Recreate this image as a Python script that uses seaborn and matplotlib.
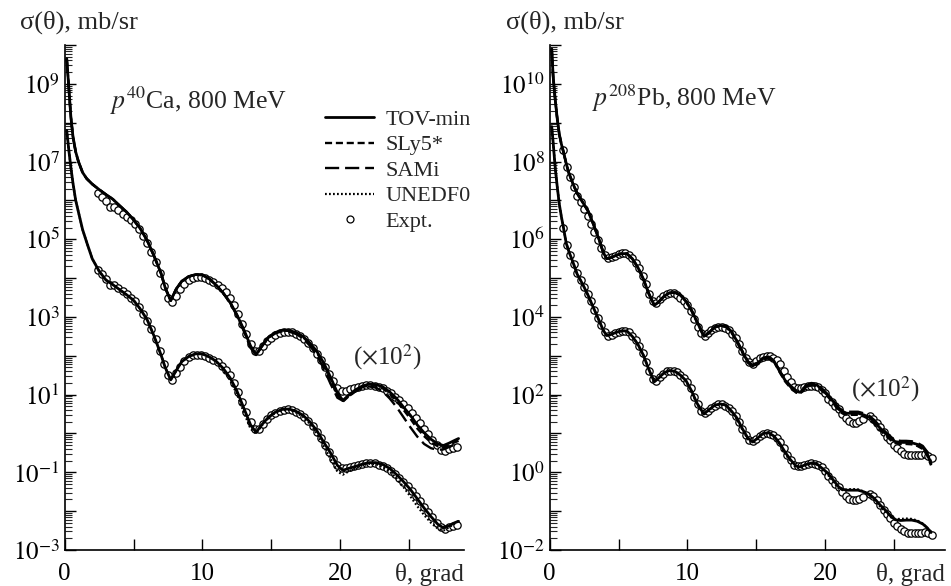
import numpy as np
import matplotlib
matplotlib.use("Agg")
import matplotlib.pyplot as plt
import matplotlib.ticker as mticker
from matplotlib.lines import Line2D
import seaborn as sns

# --- данные: log10 σ(θ), mb/sr ---
# теор. кривые верхней группы записаны уже с множителем 10^2 (как на графике)

# p + 40Ca
ca_theta = [0.15, 0.3, 0.45, 0.6, 0.8, 1.0, 1.3, 1.6, 2.0, 2.5,
            3.0, 3.5, 4.0, 4.5, 5.0, 5.5, 6.0, 6.5, 7.0, 7.3,
            7.7, 8.1, 8.5, 9.0, 9.5, 10.0, 10.5, 11.0, 11.5, 12.0,
            12.5, 13.0, 13.5, 13.9, 14.3, 14.8, 15.3, 15.8, 16.3, 16.8,
            17.3, 17.8, 18.3, 18.8, 19.3, 19.8, 20.2, 20.6, 21.1, 21.6,
            22.1, 22.6, 23.1, 23.6, 24.1, 24.6, 25.1, 25.6, 26.1, 26.6,
            27.1, 27.5, 27.9, 28.3, 28.6]
# верхняя группа (x10^2)
ca_tov_up = [9.65, 8.9, 8.15, 7.65, 7.25, 7.0, 6.72, 6.56, 6.42, 6.28,
             6.15, 6.03, 5.86, 5.70, 5.50, 5.27, 4.96, 4.56, 4.12, 3.75,
             3.42, 3.72, 3.92, 4.04, 4.09, 4.08, 3.98, 3.82, 3.62, 3.38,
             3.06, 2.68, 2.25, 2.03, 2.25, 2.48, 2.60, 2.66, 2.65, 2.60,
             2.50, 2.33, 2.12, 1.82, 1.45, 1.05, 0.85, 0.98, 1.12, 1.22,
             1.27, 1.26, 1.20, 1.07, 0.90, 0.68, 0.47, 0.22, 0.02, -0.15,
             -0.27, -0.31, -0.25, -0.18, -0.13]
ca_sly_up = [9.65, 8.9, 8.15, 7.65, 7.25, 7.0, 6.72, 6.56, 6.42, 6.28,
             6.15, 6.03, 5.86, 5.70, 5.50, 5.27, 4.96, 4.56, 4.12, 3.75,
             3.42, 3.72, 3.92, 4.04, 4.09, 4.08, 3.98, 3.82, 3.62, 3.38,
             3.05, 2.66, 2.23, 2.02, 2.24, 2.47, 2.59, 2.65, 2.64, 2.58,
             2.48, 2.31, 2.09, 1.78, 1.40, 1.00, 0.82, 0.95, 1.09, 1.19,
             1.24, 1.23, 1.16, 1.02, 0.84, 0.61, 0.38, 0.13, -0.07, -0.23,
             -0.33, -0.36, -0.30, -0.23, -0.19]
ca_sami_up = [9.65, 8.9, 8.15, 7.65, 7.25, 7.0, 6.72, 6.56, 6.42, 6.28,
              6.15, 6.03, 5.86, 5.70, 5.50, 5.27, 4.96, 4.56, 4.12, 3.75,
              3.42, 3.72, 3.92, 4.04, 4.09, 4.08, 3.98, 3.82, 3.62, 3.37,
              3.04, 2.64, 2.20, 2.01, 2.23, 2.46, 2.58, 2.63, 2.62, 2.56,
              2.45, 2.26, 2.02, 1.68, 1.28, 0.92, 0.84, 0.95, 1.08, 1.17,
              1.21, 1.18, 1.08, 0.90, 0.68, 0.42, 0.16, -0.08, -0.27, -0.38,
              -0.42, -0.41, -0.35, -0.29, -0.25]
# нижняя группа
ca_tov_lo = [7.8, 7.3, 6.85, 6.45, 6.0, 5.7, 5.25, 4.92, 4.5, 4.18,
             3.95, 3.83, 3.70, 3.57, 3.43, 3.2, 2.92, 2.5, 2.02, 1.7,
             1.38, 1.62, 1.85, 1.98, 2.05, 2.05, 1.97, 1.86, 1.68, 1.44,
             1.1, 0.66, 0.22, 0.03, 0.22, 0.42, 0.55, 0.62, 0.63, 0.57,
             0.47, 0.30, 0.08, -0.22, -0.5, -0.82, -0.95, -0.9, -0.85, -0.79,
             -0.75, -0.75, -0.8, -0.9, -1.06, -1.24, -1.44, -1.68, -1.92, -2.14,
             -2.34, -2.43, -2.38, -2.3, -2.26]
ca_unedf_lo = [7.8, 7.3, 6.85, 6.45, 6.0, 5.7, 5.25, 4.92, 4.5, 4.18,
               3.95, 3.83, 3.70, 3.57, 3.43, 3.2, 2.92, 2.5, 2.02, 1.7,
               1.38, 1.62, 1.85, 1.98, 2.05, 2.05, 1.97, 1.85, 1.64, 1.38,
               1.02, 0.55, 0.12, 0.0, 0.2, 0.4, 0.53, 0.6, 0.61, 0.54,
               0.43, 0.25, 0.0, -0.33, -0.65, -0.98, -1.06, -0.98, -0.9, -0.82,
               -0.78, -0.79, -0.86, -0.98, -1.16, -1.38, -1.62, -1.87, -2.1, -2.3,
               -2.45, -2.5, -2.42, -2.32, -2.25]
ca_expt_theta = [2.4, 2.7, 3.0, 3.3, 3.6, 3.9, 4.2, 4.5, 4.8, 5.1,
                 5.4, 5.7, 6.0, 6.3, 6.6, 6.9, 7.2, 7.5, 7.8, 8.1,
                 8.4, 8.7, 9.0, 9.3, 9.6, 9.9, 10.2, 10.5, 10.8, 11.1,
                 11.4, 11.7, 12.0, 12.3, 12.6, 12.9, 13.2, 13.5, 13.8, 14.1,
                 14.4, 14.7, 15.0, 15.3, 15.6, 15.9, 16.2, 16.5, 16.8, 17.1,
                 17.4, 17.7, 18.0, 18.3, 18.6, 18.9, 19.2, 19.5, 19.8, 20.1,
                 20.4, 20.7, 21.0, 21.3, 21.6, 21.9, 22.2, 22.5, 22.8, 23.1,
                 23.4, 23.7, 24.0, 24.3, 24.6, 24.9, 25.2, 25.5, 25.8, 26.1,
                 26.4, 26.7, 27.0, 27.3, 27.6, 27.9, 28.2, 28.5]
ca_expt = [4.2, 4.1, 3.98, 3.82, 3.82, 3.74, 3.66, 3.58, 3.5, 3.4,
           3.26, 3.08, 2.9, 2.68, 2.42, 2.12, 1.8, 1.5, 1.38, 1.55,
           1.72, 1.86, 1.96, 2.01, 2.03, 2.03, 2.0, 1.95, 1.9, 1.83,
           1.74, 1.63, 1.5, 1.3, 1.08, 0.82, 0.55, 0.3, 0.12, 0.12,
           0.25, 0.38, 0.47, 0.54, 0.59, 0.61, 0.62, 0.6, 0.56, 0.5,
           0.42, 0.32, 0.2, 0.05, -0.12, -0.3, -0.48, -0.66, -0.82, -0.9,
           -0.9, -0.86, -0.83, -0.8, -0.78, -0.76, -0.76, -0.77, -0.8, -0.84,
           -0.9, -0.97, -1.05, -1.14, -1.24, -1.35, -1.47, -1.6, -1.74, -1.88,
           -2.02, -2.16, -2.3, -2.42, -2.45, -2.4, -2.38, -2.36]

# p + 208Pb
pb_theta = [0.15, 0.25, 0.4, 0.55, 0.7, 0.85, 1.0, 1.2, 1.4, 1.7,
            2.0, 2.4, 2.8, 3.2, 3.6, 3.9, 4.15, 4.4, 4.8, 5.2,
            5.6, 6.0, 6.4, 6.8, 7.2, 7.6, 7.9, 8.3, 8.7, 9.1,
            9.5, 9.9, 10.3, 10.7, 11.2, 11.6, 12.0, 12.4, 12.8, 13.2,
            13.6, 14.0, 14.4, 14.75, 15.1, 15.5, 15.9, 16.3, 16.7, 17.1,
            17.5, 17.9, 18.2, 18.6, 19.0, 19.4, 19.8, 20.2, 20.6, 21.0,
            21.3, 21.6, 22.0, 22.4, 22.8, 23.2, 23.6, 24.0, 24.4, 24.8,
            25.1, 25.5, 25.9, 26.3, 26.7, 27.1, 27.4, 27.7]
pb_tov_up = [10.9, 10.2, 9.6, 9.1, 8.7, 8.45, 8.25, 7.95, 7.7, 7.42,
             7.18, 6.95, 6.72, 6.36, 5.98, 5.65, 5.5, 5.52, 5.58, 5.63,
             5.63, 5.5, 5.28, 4.98, 4.6, 4.3, 4.38, 4.53, 4.62, 4.63,
             4.56, 4.4, 4.17, 3.88, 3.5, 3.6, 3.74, 3.78, 3.76, 3.62,
             3.38, 3.1, 2.84, 2.74, 2.82, 2.93, 2.96, 2.86, 2.6, 2.37,
             2.2, 2.08, 2.06, 2.2, 2.27, 2.25, 2.12, 1.98, 1.82, 1.62,
             1.55, 1.52, 1.52, 1.52, 1.48, 1.42, 1.3, 1.14, 1.0, 0.86,
             0.79, 0.77, 0.77, 0.76, 0.72, 0.64, 0.5, 0.22]
pb_sly_up = [10.9, 10.2, 9.6, 9.1, 8.7, 8.45, 8.25, 7.95, 7.7, 7.42,
             7.18, 6.95, 6.72, 6.36, 5.98, 5.65, 5.5, 5.52, 5.58, 5.63,
             5.63, 5.5, 5.28, 4.98, 4.6, 4.3, 4.38, 4.53, 4.62, 4.63,
             4.56, 4.4, 4.16, 3.86, 3.49, 3.59, 3.73, 3.77, 3.74, 3.6,
             3.36, 3.08, 2.82, 2.72, 2.8, 2.91, 2.94, 2.84, 2.58, 2.34,
             2.17, 2.05, 2.03, 2.17, 2.24, 2.22, 2.09, 1.95, 1.78, 1.58,
             1.51, 1.48, 1.48, 1.48, 1.44, 1.37, 1.25, 1.09, 0.95, 0.82,
             0.75, 0.73, 0.73, 0.72, 0.68, 0.6, 0.45, 0.18]
pb_sami_up = [10.9, 10.2, 9.6, 9.1, 8.7, 8.45, 8.25, 7.95, 7.7, 7.42,
              7.18, 6.95, 6.72, 6.36, 5.98, 5.65, 5.5, 5.52, 5.58, 5.63,
              5.63, 5.5, 5.28, 4.98, 4.6, 4.3, 4.38, 4.53, 4.62, 4.63,
              4.56, 4.41, 4.18, 3.89, 3.52, 3.61, 3.75, 3.79, 3.77, 3.63,
              3.39, 3.12, 2.86, 2.76, 2.84, 2.95, 2.98, 2.88, 2.62, 2.39,
              2.23, 2.11, 2.09, 2.23, 2.3, 2.28, 2.15, 2.01, 1.85, 1.66,
              1.59, 1.56, 1.56, 1.56, 1.52, 1.46, 1.34, 1.18, 1.04, 0.9,
              0.83, 0.81, 0.81, 0.8, 0.76, 0.68, 0.54, 0.27]
pb_tov_lo = [8.9, 8.5, 7.85, 7.35, 6.9, 6.58, 6.3, 5.9, 5.68, 5.4,
             5.1, 4.84, 4.55, 4.22, 3.9, 3.65, 3.52, 3.54, 3.6, 3.64,
             3.64, 3.5, 3.3, 3.02, 2.65, 2.33, 2.42, 2.56, 2.62, 2.6,
             2.5, 2.36, 2.1, 1.78, 1.5, 1.62, 1.73, 1.76, 1.73, 1.58,
             1.4, 1.12, 0.88, 0.78, 0.88, 1.0, 1.02, 0.93, 0.75, 0.52,
             0.32, 0.16, 0.14, 0.2, 0.24, 0.22, 0.1, -0.02, -0.2, -0.38,
             -0.44, -0.46, -0.46, -0.46, -0.5, -0.56, -0.68, -0.84, -0.98, -1.14,
             -1.22, -1.24, -1.23, -1.23, -1.26, -1.33, -1.42, -1.55]
pb_unedf_lo = [8.9, 8.5, 7.85, 7.35, 6.9, 6.58, 6.3, 5.9, 5.68, 5.4,
               5.1, 4.84, 4.55, 4.22, 3.9, 3.65, 3.52, 3.54, 3.6, 3.64,
               3.64, 3.5, 3.3, 3.02, 2.65, 2.33, 2.42, 2.56, 2.62, 2.6,
               2.5, 2.35, 2.08, 1.76, 1.49, 1.61, 1.72, 1.75, 1.71, 1.56,
               1.37, 1.09, 0.85, 0.76, 0.87, 0.99, 1.01, 0.91, 0.72, 0.48,
               0.28, 0.12, 0.11, 0.18, 0.22, 0.2, 0.07, -0.06, -0.24, -0.42,
               -0.46, -0.44, -0.43, -0.44, -0.49, -0.58, -0.72, -0.88, -1.02, -1.16,
               -1.2, -1.2, -1.19, -1.2, -1.24, -1.32, -1.42, -1.58]
pb_expt_theta = [1.0, 1.25, 1.5, 1.75, 2.0, 2.25, 2.5, 2.75, 3.0, 3.25,
                 3.5, 3.75, 4.0, 4.25, 4.5, 4.75, 5.0, 5.25, 5.5, 5.75,
                 6.0, 6.25, 6.5, 6.75, 7.0, 7.25, 7.5, 7.75, 8.0, 8.25,
                 8.5, 8.75, 9.0, 9.25, 9.5, 9.75, 10.0, 10.25, 10.5, 10.75,
                 11.0, 11.25, 11.5, 11.75, 12.0, 12.25, 12.5, 12.75, 13.0, 13.25,
                 13.5, 13.75, 14.0, 14.25, 14.5, 14.75, 15.0, 15.25, 15.5, 15.75,
                 16.0, 16.25, 16.5, 16.75, 17.0, 17.25, 17.5, 17.75, 18.0, 18.25,
                 18.5, 18.75, 19.0, 19.25, 19.5, 19.75, 20.0, 20.25, 20.5, 20.75,
                 21.0, 21.25, 21.5, 21.75, 22.0, 22.25, 22.5, 22.75, 23.25, 23.5,
                 23.75, 24.0, 24.25, 24.5, 24.75, 25.0, 25.25, 25.5, 25.75, 26.0,
                 26.25, 26.5, 26.75, 27.0, 27.25, 27.5, 27.75]
pb_expt = [6.3, 5.85, 5.6, 5.35, 5.12, 4.95, 4.78, 4.6, 4.4, 4.18,
           3.98, 3.78, 3.6, 3.52, 3.54, 3.58, 3.62, 3.64, 3.64, 3.6,
           3.52, 3.4, 3.25, 3.06, 2.84, 2.6, 2.4, 2.35, 2.45, 2.54,
           2.6, 2.62, 2.61, 2.57, 2.5, 2.42, 2.32, 2.16, 1.95, 1.75,
           1.58, 1.52, 1.58, 1.66, 1.72, 1.75, 1.75, 1.72, 1.66, 1.57,
           1.45, 1.3, 1.12, 0.95, 0.84, 0.8, 0.86, 0.94, 0.98, 1.0,
           0.99, 0.95, 0.88, 0.78, 0.62, 0.45, 0.32, 0.2, 0.16, 0.17,
           0.2, 0.22, 0.23, 0.22, 0.2, 0.13, 0.03, -0.1, -0.2, -0.3,
           -0.38, -0.5, -0.6, -0.68, -0.72, -0.72, -0.68, -0.63, -0.55, -0.62,
           -0.72, -0.84, -0.96, -1.08, -1.18, -1.3, -1.38, -1.45, -1.52, -1.55,
           -1.56, -1.56, -1.55, -1.55, -1.54, -1.57, -1.62]

scale_up = 100  # эксперимент в верхней группе умножен на 10^2

# --- оформление ---
sns.set_style("ticks")
plt.rcParams['font.family'] = ['Liberation Serif', 'DejaVu Serif']
plt.rcParams['mathtext.fontset'] = 'stix'

styles = {
    "TOV-min": dict(linestyle='-', linewidth=2.0),
    "SLy5*": dict(linestyle=(0, (3.0, 1.6)), linewidth=1.7),
    "SAMi": dict(linestyle=(0, (6.0, 2.5)), linewidth=1.7),
    "UNEDF0": dict(linestyle=(0, (0.8, 1.0)), linewidth=1.6),
}

fig = plt.figure(figsize=(9.51, 5.86), dpi=100)
ax1 = fig.add_axes([0.068, 0.0614, 0.420, 0.8618])
ax2 = fig.add_axes([0.578, 0.0614, 0.4155, 0.8618])


def draw(ax, theta, up, lo, expt_theta, expt):
    # точки эксперимента под линиями, как в оригинале
    for k in (scale_up, 1):
        sns.scatterplot(x=expt_theta, y=k * 10 ** np.array(expt), ax=ax,
                        marker='o', s=28, facecolor='white',
                        edgecolor='black', linewidth=0.9, zorder=2)
    for name in ["SAMi", "SLy5*", "TOV-min"]:
        sns.lineplot(x=theta, y=10 ** np.array(up[name]), ax=ax,
                     color='black', sort=False, zorder=3, **styles[name])
    for name in ["UNEDF0", "TOV-min"]:
        sns.lineplot(x=theta, y=10 ** np.array(lo[name]), ax=ax,
                     color='black', sort=False, zorder=3, **styles[name])


draw(ax1, ca_theta,
     {"TOV-min": ca_tov_up, "SLy5*": ca_sly_up, "SAMi": ca_sami_up},
     {"TOV-min": ca_tov_lo, "UNEDF0": ca_unedf_lo},
     ca_expt_theta, ca_expt)
draw(ax2, pb_theta,
     {"TOV-min": pb_tov_up, "SLy5*": pb_sly_up, "SAMi": pb_sami_up},
     {"TOV-min": pb_tov_lo, "UNEDF0": pb_unedf_lo},
     pb_expt_theta, pb_expt)


def setup(ax, xmax, ylo, yhi, parity):
    ax.set_yscale('log')
    ax.set_xlim(0, xmax)
    ax.set_ylim(10.0 ** ylo, 10.0 ** yhi)
    ax.xaxis.set_major_locator(mticker.FixedLocator([0, 5, 10, 15, 20, 25]))
    ax.xaxis.set_major_formatter(mticker.FuncFormatter(
        lambda v, p: f"{int(v)}" if int(v) in (0, 10, 20) else ""))
    ax.yaxis.set_major_locator(mticker.LogLocator(base=10, numticks=30))
    ax.yaxis.set_minor_locator(mticker.LogLocator(base=10, subs=np.arange(2, 10), numticks=30))
    ax.yaxis.set_minor_formatter(mticker.NullFormatter())

    def yfmt(v, p):
        e = int(round(np.log10(v)))
        return rf"$10^{{{e}}}$" if e % 2 == parity else ""
    ax.yaxis.set_major_formatter(mticker.FuncFormatter(yfmt))
    ax.tick_params(axis='both', which='major', direction='in', length=8,
                   width=1.0, labelsize=18, color='black', labelcolor='black')
    ax.tick_params(axis='y', which='minor', direction='in', length=5, width=0.8)
    ax.tick_params(axis='x', pad=9)
    ax.set_xlabel("")
    ax.set_ylabel("")
    for s in ("left", "bottom"):
        ax.spines[s].set_linewidth(1.2)
        ax.spines[s].set_color('black')
    sns.despine(ax=ax)
    ax.text(1.0, -0.062, "θ, grad", transform=ax.transAxes, ha='right',
            va='baseline', fontsize=18)


setup(ax1, 29.0, -3, 10, 1)
setup(ax2, 28.7, -2, 11, 0)

fig.text(0.021, 0.962, "σ(θ), mb/sr", fontsize=19, va='center', ha='left')
fig.text(0.532, 0.962, "σ(θ), mb/sr", fontsize=19, va='center', ha='left')

ax1.text(3.3, 0.89, r"$p^{40}$Ca, 800 MeV", transform=ax1.get_xaxis_transform(),
         fontsize=18.5, va='center', ha='left')
ax2.text(3.1, 0.895, r"$p^{208}$Pb, 800 MeV", transform=ax2.get_xaxis_transform(),
         fontsize=18.5, va='center', ha='left')
ax1.text(20.9, 0.382, r"($\times$10$^2$)", transform=ax1.get_xaxis_transform(),
         fontsize=18, va='center', ha='left')
ax2.text(21.9, 0.319, r"($\times$10$^2$)", transform=ax2.get_xaxis_transform(),
         fontsize=18, va='center', ha='left')

handles = [Line2D([], [], color='black', **styles[n]) for n in styles]
handles.append(Line2D([], [], color='black', linestyle='none', marker='o',
                      markersize=5, markerfacecolor='white', markeredgewidth=0.9))
labels = list(styles) + ["Expt."]
ax1.legend(handles, labels, loc='upper left', bbox_to_anchor=(0.63, 0.89),
           frameon=False, fontsize=16, handlelength=2.2, handletextpad=0.5,
           labelspacing=0.22, borderaxespad=0.0)

fig.savefig("out.png", dpi=100)
